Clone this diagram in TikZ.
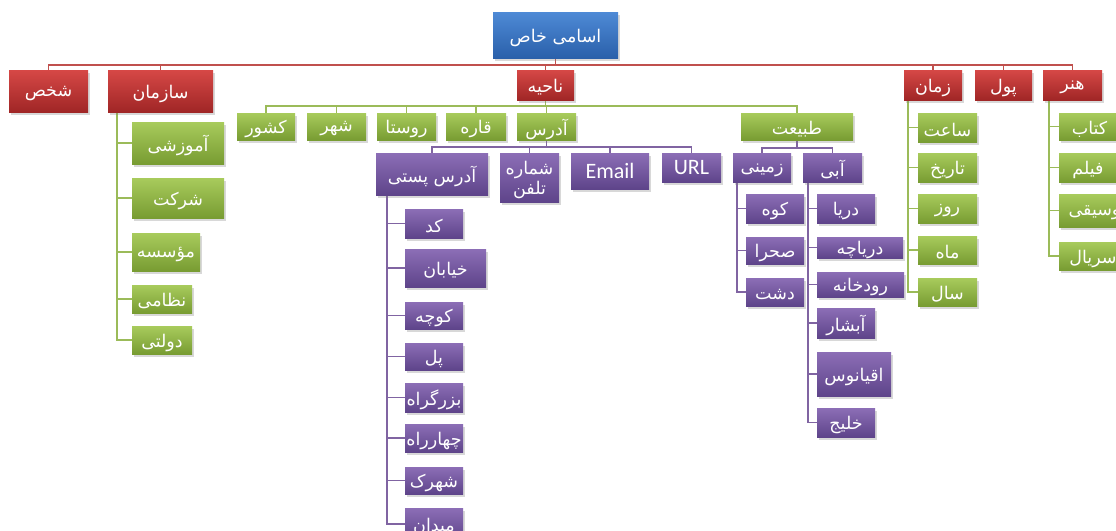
\documentclass[tikz,border=0pt]{standalone}
\usepackage{fontspec}
\setmainfont{Carlito}
\newfontfamily\arabicfont[Script=Arabic]{DejaVu Sans}
\TeXXeTstate=1
\usetikzlibrary{shadows,backgrounds}
\definecolor{blueT}{RGB}{78,138,214}
\definecolor{blueB}{RGB}{42,96,170}
\definecolor{redT}{RGB}{214,72,70}
\definecolor{redB}{RGB}{160,38,38}
\definecolor{greenT}{RGB}{168,203,92}
\definecolor{greenB}{RGB}{120,156,50}
\definecolor{purpT}{RGB}{140,110,182}
\definecolor{purpB}{RGB}{94,68,138}
\definecolor{redL}{RGB}{192,80,77}
\definecolor{greenL}{RGB}{155,187,89}
\definecolor{purpL}{RGB}{128,100,162}
\newcommand{\fa}[1]{\raisebox{-2.5pt}[\height][\depth]{\arabicfont\fontsize{17.5}{20}\selectfont\beginR #1\endR}}
\newcommand{\la}[1]{{\fontsize{22}{24}\selectfont #1}}
\newcommand{\bx}[7]{\node[#1, minimum width={(#5-#3)*1pt}, minimum height={(#6-#4)*1pt}] (#2) at ({(#3+#5)/2},{(#4+#6)/2}) {#7};}
\tikzset{
  boxbase/.style={rectangle, inner sep=0pt, text=white, align=center,
    drop shadow={shadow xshift=1.5pt, shadow yshift=-2.5pt, opacity=0.3}},
  bb/.style={boxbase, top color=blueT, bottom color=blueB},
  rb/.style={boxbase, top color=redT, bottom color=redB},
  gb/.style={boxbase, top color=greenT, bottom color=greenB},
  pb/.style={boxbase, top color=purpT, bottom color=purpB},
  redline/.style={draw=redL, line width=1.8pt},
  greenline/.style={draw=greenL, line width=1.8pt},
  purpline/.style={draw=purpL, line width=1.8pt},
}
\begin{document}
\begin{tikzpicture}[x=1pt,y=-1pt]
\useasboundingbox (0,0) rectangle (1116,530);
\coordinate (busR) at (0,65);
\coordinate (busG) at (0,106);
\coordinate (busP) at (0,147);
\coordinate (busQ) at (0,148);
% root
\bx{bb}{root}{493}{12}{618}{58}{\fa{اسامی خاص}}
% red level
\bx{rb}{shakhs}{9}{70}{88}{112}{\fa{شخص}}
\bx{rb}{sazman}{108}{70}{213}{112}{\fa{سازمان}}
\bx{rb}{nahiye}{517}{70}{574}{100}{\fa{ناحیه}}
\bx{rb}{zaman}{904}{70}{962}{100}{\fa{زمان}}
\bx{rb}{pul}{975}{70}{1032}{100}{\fa{پول}}
\bx{rb}{honar}{1043}{70}{1102}{100}{\fa{هنر}}
% sazman children
\bx{gb}{amoozeshi}{132}{122}{224}{164}{\fa{آموزشی}}
\bx{gb}{sherkat}{132}{178}{224}{218}{\fa{شرکت}}
\bx{gb}{moassese}{132}{233}{200}{271}{\fa{مؤسسه}}
\bx{gb}{nezami}{132}{285}{192}{313}{\fa{نظامی}}
\bx{gb}{dolati}{132}{326}{192}{354}{\fa{دولتی}}
% nahiye children
\bx{gb}{keshvar}{237}{113}{295}{140}{\fa{کشور}}
\bx{gb}{shahr}{307}{113}{366}{140}{\fa{شهر}}
\bx{gb}{roosta}{377}{113}{436}{140}{\fa{روستا}}
\bx{gb}{qare}{446}{113}{506}{140}{\fa{قاره}}
\bx{gb}{adres}{517}{113}{576}{140}{\fa{آدرس}}
\bx{gb}{tabiat}{741}{113}{853}{140}{\fa{طبیعت}}
% adres children
\bx{pb}{posti}{376}{153}{488}{195}{\fa{آدرس پستی}}
\bx{pb}{tel}{500}{153}{559}{202}{\fa{شماره}\\[1pt]\fa{تلفن}}
\bx{pb}{email}{571}{153}{649}{189}{\la{Email}}
\bx{pb}{url}{662}{153}{721}{182}{\la{URL}}
% posti children
\bx{pb}{kod}{405}{209}{463}{238}{\fa{کد}}
\bx{pb}{khiaban}{405}{249}{486}{287}{\fa{خیابان}}
\bx{pb}{koocheh}{405}{302}{463}{329}{\fa{کوچه}}
\bx{pb}{pol}{405}{343}{463}{370}{\fa{پل}}
\bx{pb}{bozorgrah}{405}{383}{463}{412}{\fa{بزرگراه}}
\bx{pb}{chaharrah}{405}{424}{463}{452}{\fa{چهارراه}}
\bx{pb}{shahrak}{405}{467}{463}{494}{\fa{شهرک}}
\bx{pb}{meydan}{405}{508}{463}{540}{\fa{میدان}}
% tabiat children
\bx{pb}{zamini}{733}{153}{791}{182}{\fa{زمینی}}
\bx{pb}{abi}{803}{153}{862}{182}{\fa{آبی}}
\bx{pb}{kooh}{746}{194}{804}{223}{\fa{کوه}}
\bx{pb}{sahra}{746}{237}{804}{264}{\fa{صحرا}}
\bx{pb}{dasht}{746}{278}{804}{306}{\fa{دشت}}
\bx{pb}{darya}{817}{194}{875}{223}{\fa{دریا}}
\bx{pb}{daryache}{817}{237}{903}{258}{\fa{دریاچه}}
\bx{pb}{roodkhane}{817}{272}{904}{297}{\fa{رودخانه}}
\bx{pb}{abshar}{817}{308}{875}{338}{\fa{آبشار}}
\bx{pb}{oqyanoos}{817}{352}{891}{396}{\fa{اقیانوس}}
\bx{pb}{khalij}{817}{408}{875}{437}{\fa{خلیج}}
% zaman children
\bx{gb}{saat}{918}{113}{977}{142}{\fa{ساعت}}
\bx{gb}{tarikh}{918}{153}{977}{182}{\fa{تاریخ}}
\bx{gb}{rooz}{918}{194}{977}{223}{\fa{روز}}
\bx{gb}{mah}{918}{236}{977}{264}{\fa{ماه}}
\bx{gb}{sal}{918}{278}{977}{306}{\fa{سال}}
% honar children
\bx{gb}{ketab}{1059}{113}{1120}{140}{\fa{کتاب}}
\bx{gb}{film}{1059}{153}{1117}{182}{\fa{فیلم}}
\bx{gb}{moosiqi}{1059}{194}{1140}{227}{\fa{موسیقی}}
\bx{gb}{serial}{1059}{242}{1127}{270}{\fa{سریال}}

\begin{scope}[on background layer]
\fill[white] (0,0) rectangle (1116,530);
% root to red level
\foreach \c in {shakhs,sazman,nahiye,zaman,pul,honar}
  \draw[redline] (root.south) -- (root.south |- busR) -| (\c.north);
% nahiye to green row
\foreach \c in {keshvar,shahr,roosta,qare,adres,tabiat}
  \draw[greenline] (nahiye.south) -- (nahiye.south |- busG) -| (\c.north);
% sazman side list
\foreach \c in {amoozeshi,sherkat,moassese,nezami,dolati}
  \draw[greenline] ([xshift=9pt]sazman.south west) |- (\c.west);
% adres to purple row
\foreach \c in {posti,tel,email,url}
  \draw[purpline] (adres.south) -- (adres.south |- busP) -| (\c.north);
% tabiat to purple row
\foreach \c in {zamini,abi}
  \draw[purpline] (tabiat.south) -- (tabiat.south |- busQ) -| (\c.north);
% posti side list
\foreach \c in {kod,khiaban,koocheh,pol,bozorgrah,chaharrah,shahrak,meydan}
  \draw[purpline] ([xshift=11pt]posti.south west) |- (\c.west);
% zamini side list
\foreach \c in {kooh,sahra,dasht}
  \draw[purpline] ([xshift=4pt]zamini.south west) |- (\c.west);
% abi side list
\foreach \c in {darya,daryache,roodkhane,abshar,oqyanoos,khalij}
  \draw[purpline] ([xshift=5pt]abi.south west) |- (\c.west);
% zaman side list
\foreach \c in {saat,tarikh,rooz,mah,sal}
  \draw[greenline] ([xshift=4pt]zaman.south west) |- (\c.west);
% honar side list
\foreach \c in {ketab,film,moosiqi,serial}
  \draw[greenline] ([xshift=6pt]honar.south west) |- (\c.west);
\end{scope}
\end{tikzpicture}
\end{document}
